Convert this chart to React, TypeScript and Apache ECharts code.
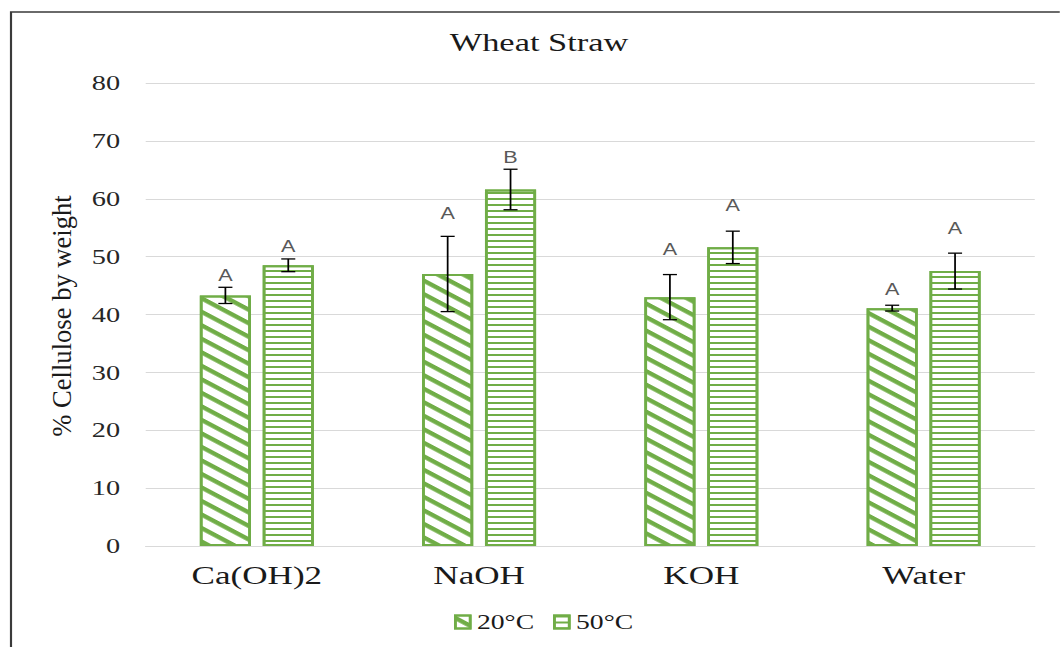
import React, { useEffect, useRef } from 'react';
import * as echarts from 'echarts';

const categories = ['Ca(OH)2', 'NaOH', 'KOH', 'Water'];
const seriesNames = ['20°C', '50°C'];
const values20 = [43.3, 47.0, 43.0, 41.1];
const values50 = [48.5, 61.6, 51.6, 47.5];
const errors20 = [1.4, 6.5, 3.9, 0.5];
const errors50 = [1.1, 3.5, 2.8, 3.1];
const letters20 = ['A', 'A', 'A', 'A'];
const letters50 = ['A', 'B', 'A', 'A'];
const letterAt20 = [46.8, 57.5, 51.3, 44.4];
const letterAt50 = [51.8, 67.2, 58.9, 54.8];
const yMin = 0;
const yMax = 80;
const yStep = 10;
const chartTitle = 'Wheat Straw';
const yAxisTitle = '% Cellulose by weight';

const W = 1060;
const H = 647;
const S = 1.35; // horizontal stretch of the reference picture
const IW = W / S;
const GREEN = '#70AD47';
const BAR_FRAC = 0.23;
const GAP_FRAC = 0.23;

function errSeries(name: string, sign: number, vals: number[], errs: number[], letters: string[], letterAt: number[]) {
  return {
    type: 'custom',
    name,
    z: 5,
    data: vals.map((v, i) => [i, v, errs[i], letterAt[i]]),
    renderItem: (params: any, api: any) => {
      const idx = api.value(0);
      const v = api.value(1);
      const e = api.value(2);
      const lv = api.value(3);
      const band = api.size([1, 0])[0];
      const bw = band * BAR_FRAC;
      const off = sign * (bw + bw * GAP_FRAC) / 2;
      const top = api.coord([idx, v + e]);
      const bot = api.coord([idx, v - e]);
      const lab = api.coord([idx, lv]);
      const x = top[0] + off;
      const cap = 5.2;
      const st = { stroke: '#000', lineWidth: 1.3 };
      return {
        type: 'group',
        children: [
          { type: 'line', shape: { x1: x, y1: top[1], x2: x, y2: bot[1] }, style: st },
          { type: 'line', shape: { x1: x - cap, y1: top[1], x2: x + cap, y2: top[1] }, style: st },
          { type: 'line', shape: { x1: x - cap, y1: bot[1], x2: x + cap, y2: bot[1] }, style: st },
          {
            type: 'text',
            x,
            y: lab[1],
            style: {
              text: letters[params.dataIndex],
              fill: '#595959',
              fontFamily: 'Liberation Sans',
              fontSize: 16,
              align: 'center',
              verticalAlign: 'middle',
            },
          },
        ],
      };
    },
  };
}

export default function App() {
  const ref = useRef<HTMLDivElement>(null);
  useEffect(() => {
    if (!ref.current) return;
    const chart = echarts.init(ref.current, undefined, { renderer: 'svg' });
    const diagDecal = {
      color: GREEN,
      symbol: 'rect',
      symbolSize: 1,
      dashArrayX: [1, 0],
      dashArrayY: [4, 7],
      rotation: 0.62,
    };
    const horizDecal = {
      color: GREEN,
      symbol: 'rect',
      symbolSize: 1,
      dashArrayX: [1, 0],
      dashArrayY: [2, 4],
      rotation: 0,
    };
    chart.setOption({
      animation: false,
      textStyle: { fontFamily: 'Liberation Serif' },
      title: {
        text: chartTitle,
        left: 539 / S,
        top: 30,
        textAlign: 'center',
        padding: 0,
        textStyle: { fontFamily: 'Liberation Serif', fontSize: 25.5, fontWeight: 'normal', color: '#1a1a1a' },
      },
      legend: {
        data: seriesNames,
        left: 454 / S,
        top: 611.5,
        padding: 0,
        icon: 'rect',
        itemWidth: 11,
        itemHeight: 13,
        itemGap: 14,
        textStyle: { fontFamily: 'Liberation Serif', fontSize: 20.5, color: '#1a1a1a' },
      },
      grid: { left: 145.7 / S, right: IW - 1035 / S, top: 83, bottom: H - 546, containLabel: false },
      xAxis: {
        type: 'category',
        data: categories,
        axisLine: { show: true, lineStyle: { color: '#d9d9d9', width: 1 } },
        axisTick: { show: false },
        axisLabel: { fontFamily: 'Liberation Serif', fontSize: 26, color: '#1a1a1a', margin: 16 },
        splitLine: { show: false },
      },
      yAxis: {
        type: 'value',
        min: yMin,
        max: yMax,
        interval: yStep,
        axisLine: { show: false },
        axisTick: { show: false },
        axisLabel: { fontFamily: 'Liberation Serif', fontSize: 21, color: '#262626', margin: 19 },
        splitLine: { lineStyle: { color: '#d9d9d9', width: 1 } },
      },
      graphic: [
        {
          type: 'rect',
          shape: { x: 11 / S, y: 12, width: IW + 20, height: H + 40 },
          style: { fill: 'none', stroke: '#3a3a3a', lineWidth: 1.6 },
          silent: true,
          z: -10,
        },
        {
          type: 'text',
          x: 61.8 / S,
          y: 316,
          rotation: Math.PI / 2,
          scaleY: 1 / S,
          style: {
            text: yAxisTitle,
            font: 'normal normal 26.6px Liberation Serif',
            fill: '#1a1a1a',
            align: 'center',
            verticalAlign: 'middle',
          },
        },
      ],
      series: [
        {
          type: 'bar',
          name: seriesNames[0],
          data: values20,
          barWidth: BAR_FRAC * 100 + '%',
          barGap: GAP_FRAC * 100 + '%',
          itemStyle: { color: '#ffffff', borderColor: GREEN, borderWidth: 2, decal: diagDecal },
        },
        {
          type: 'bar',
          name: seriesNames[1],
          data: values50,
          barWidth: BAR_FRAC * 100 + '%',
          barGap: GAP_FRAC * 100 + '%',
          itemStyle: { color: '#ffffff', borderColor: GREEN, borderWidth: 2, decal: horizDecal },
        },
        errSeries('err20', -1, values20, errors20, letters20, letterAt20),
        errSeries('err50', 1, values50, errors50, letters50, letterAt50),
      ],
    });
    return () => chart.dispose();
  }, []);
  return (
    <div style={{ position: 'absolute', left: 0, top: 0, width: W, height: H, overflow: 'hidden', background: '#fff' }}>
      <div
        ref={ref}
        style={{ width: IW, height: H, transform: `scaleX(${S})`, transformOrigin: '0 0' }}
      />
    </div>
  );
}
